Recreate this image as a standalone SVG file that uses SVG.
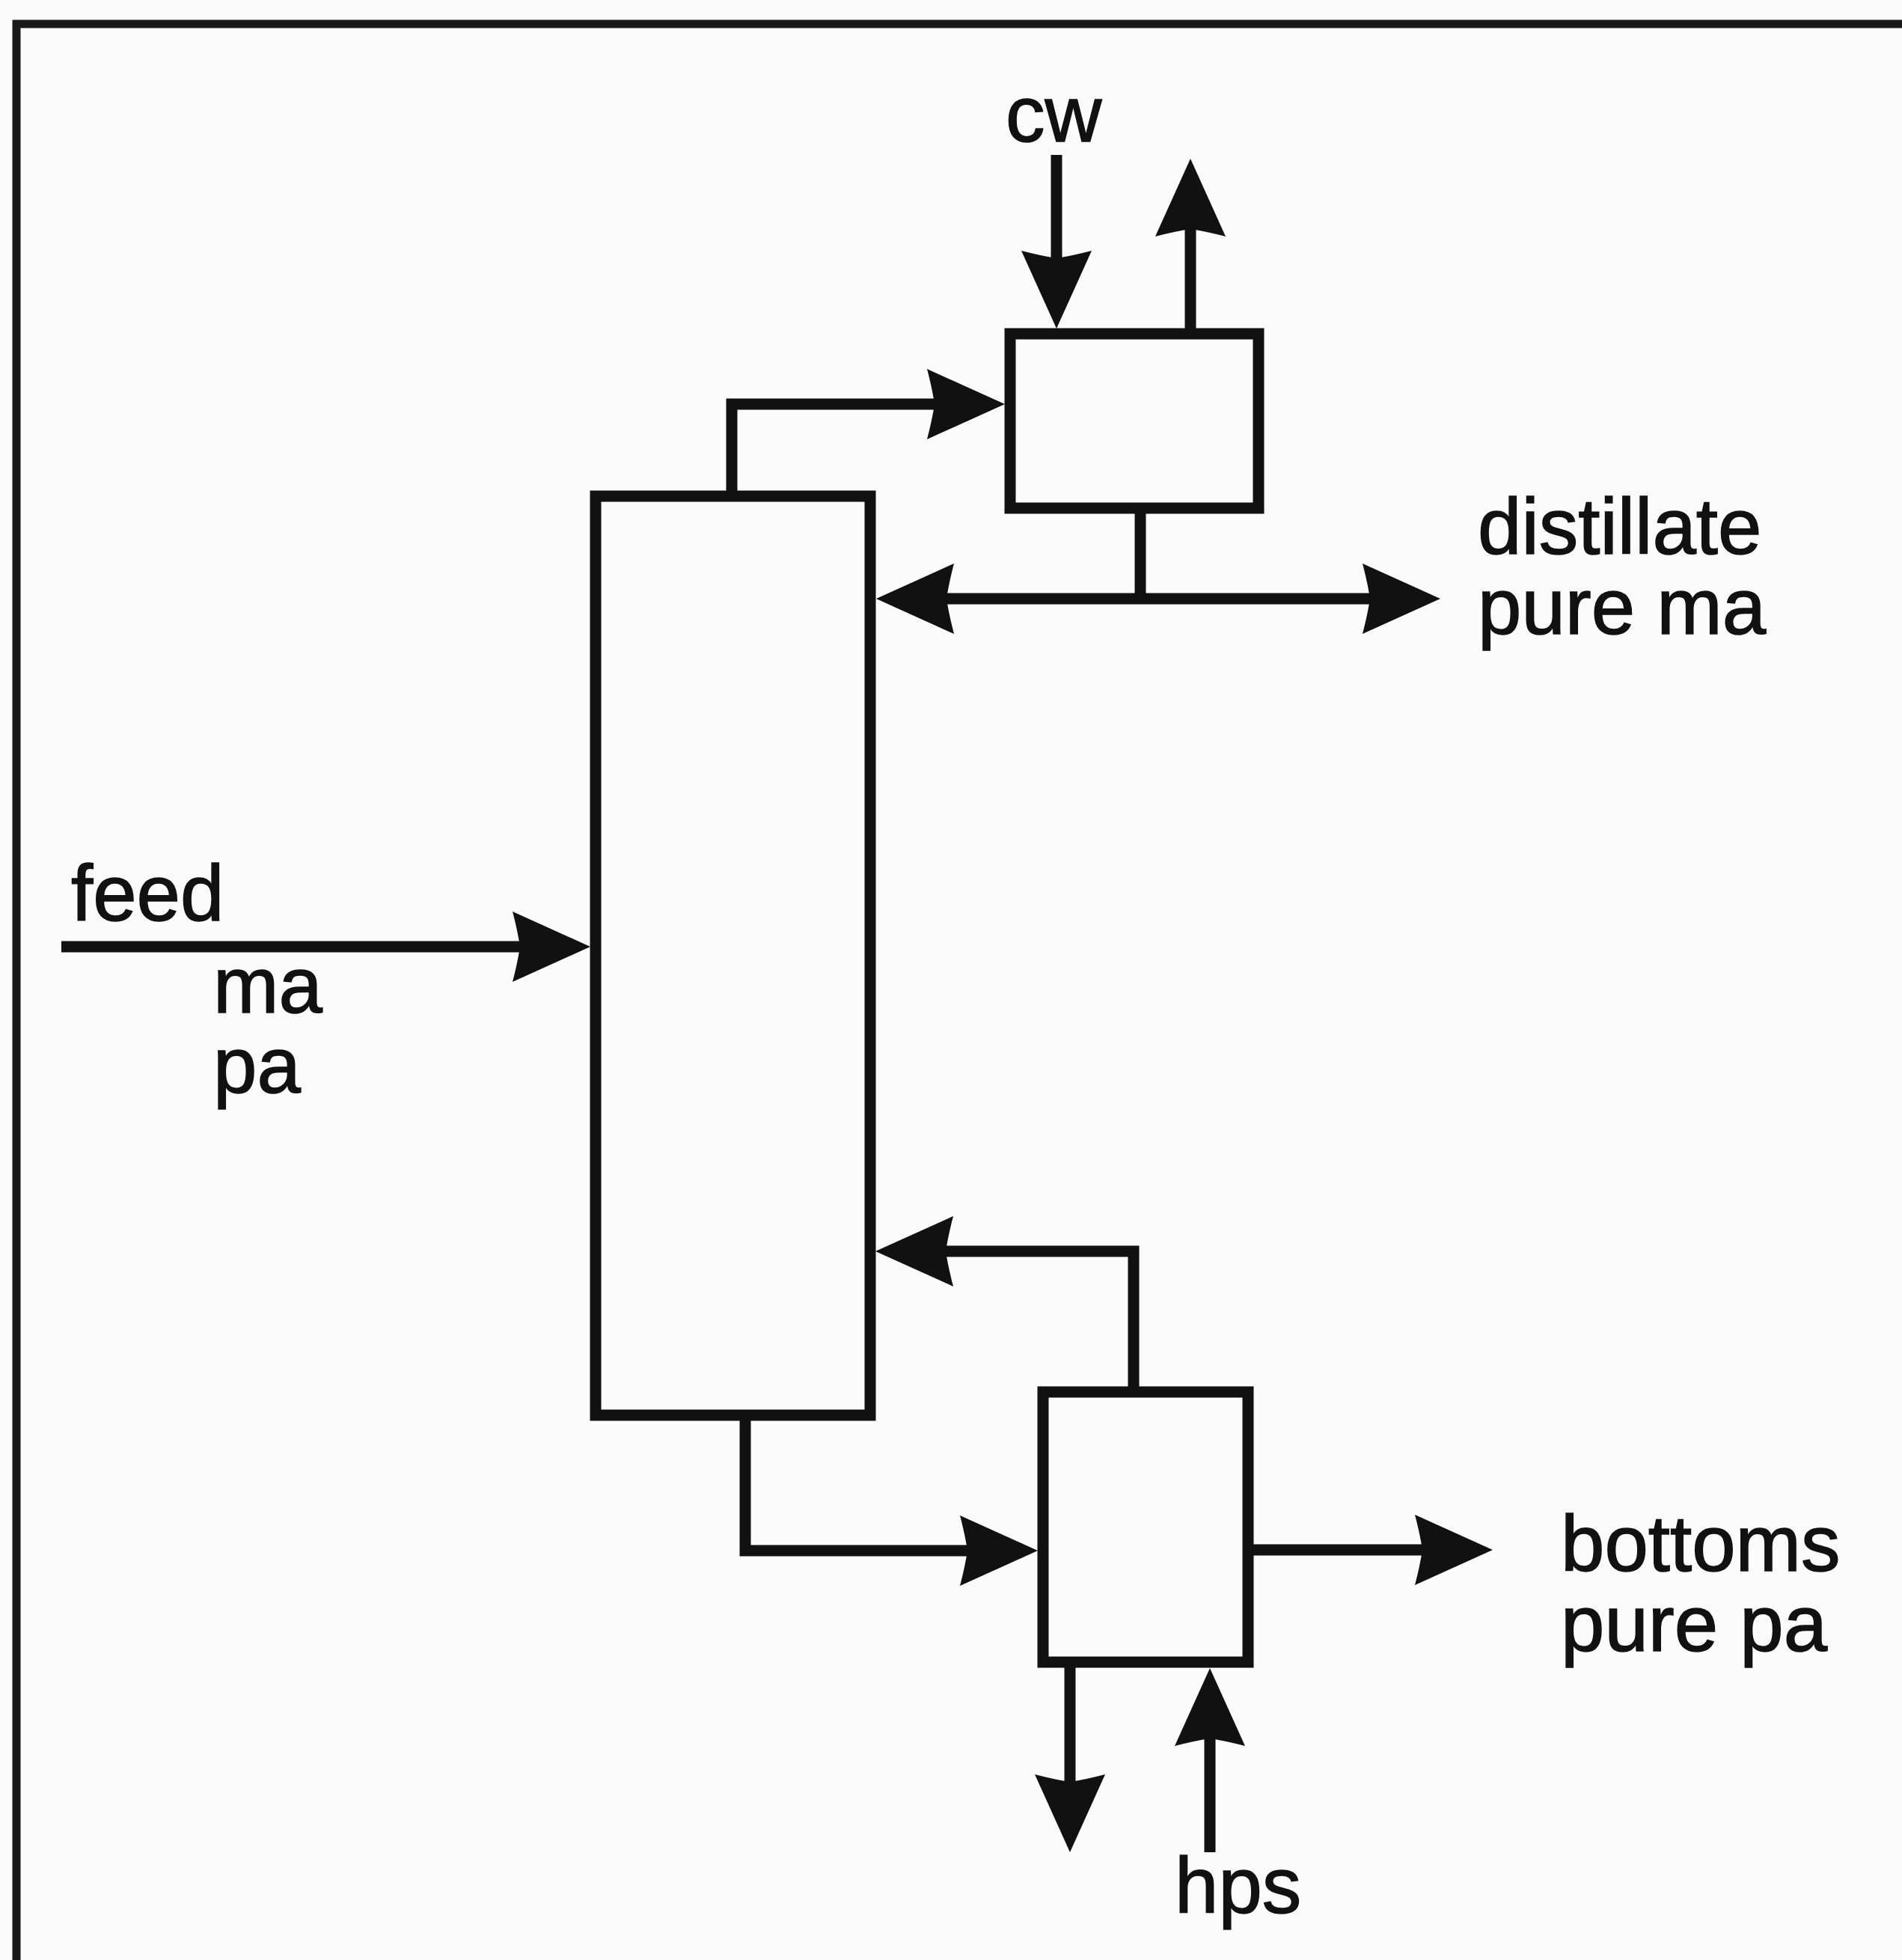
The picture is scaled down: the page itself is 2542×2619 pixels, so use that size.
<svg xmlns="http://www.w3.org/2000/svg" width="2542" height="2619" viewBox="0 0 2542 2619">
<style>
.ln{fill:none;stroke:#111;stroke-width:15;stroke-linejoin:miter;stroke-linecap:butt}
.box{fill:none;stroke:#111;stroke-width:15}
.lbl{font-family:"Liberation Sans",Arial,sans-serif;font-size:105px;fill:#111;stroke:#111;stroke-width:1.5}
.ah{fill:#111}
</style>
<defs>
<path id="ah" d="M0,0 L-104,-47 Q-97,-20 -94,0 Q-97,20 -104,47 Z"/>
</defs>
<rect x="0" y="0" width="2542" height="2619" fill="#fbfbfb"/>
<g id="frame">
<line x1="17" y1="32" x2="2542" y2="32" stroke="#1a1a1a" stroke-width="11"/>
<line x1="22" y1="27" x2="22" y2="2619" stroke="#1a1a1a" stroke-width="11"/>
</g>
<g id="column"><rect class="box" x="796" y="663" width="367" height="1228"/></g>
<g id="condenser"><rect class="box" x="1350" y="446" width="332" height="233"/></g>
<g id="reboiler"><rect class="box" x="1394" y="1860" width="274" height="361"/></g>
<g id="connectors">
<path class="ln" d="M978,663 V540 H1260"/>
<use href="#ah" class="ah" transform="translate(1343,540)"/>
<path class="ln" d="M1412,207 V350"/>
<use href="#ah" class="ah" transform="translate(1412,439) rotate(90)"/>
<path class="ln" d="M1591,439 V300"/>
<use href="#ah" class="ah" transform="translate(1591,212) rotate(-90)"/>
<path class="ln" d="M1524,679 V800"/>
<path class="ln" d="M1250,800 H1840"/>
<use href="#ah" class="ah" transform="translate(1171,800) rotate(180)"/>
<use href="#ah" class="ah" transform="translate(1925,800)"/>
<path class="ln" d="M82,1265 H705"/>
<use href="#ah" class="ah" transform="translate(789,1265)"/>
<path class="ln" d="M996,1891 V2072 H1300"/>
<use href="#ah" class="ah" transform="translate(1387,2072)"/>
<path class="ln" d="M1515,1853 V1672 H1255"/>
<use href="#ah" class="ah" transform="translate(1170,1672) rotate(180)"/>
<path class="ln" d="M1675,2071 H1910"/>
<use href="#ah" class="ah" transform="translate(1995,2071)"/>
<path class="ln" d="M1430,2228 V2390"/>
<use href="#ah" class="ah" transform="translate(1430,2475) rotate(90)"/>
<path class="ln" d="M1617,2475 V2315"/>
<use href="#ah" class="ah" transform="translate(1617,2229) rotate(-90)"/>
</g>
<g id="labels">
<text class="lbl" x="1344" y="189" font-size="100">cw</text>
<text class="lbl" x="1975" y="740">distillate</text>
<text class="lbl" x="1975" y="847">pure ma</text>
<text class="lbl" x="95" y="1230">feed</text>
<text class="lbl" x="285" y="1353">ma</text>
<text class="lbl" x="285" y="1460">pa</text>
<text class="lbl" x="2086" y="2099">bottoms</text>
<text class="lbl" x="2086" y="2206">pure pa</text>
<text class="lbl" x="1570" y="2556">hps</text>
</g>
</svg>
